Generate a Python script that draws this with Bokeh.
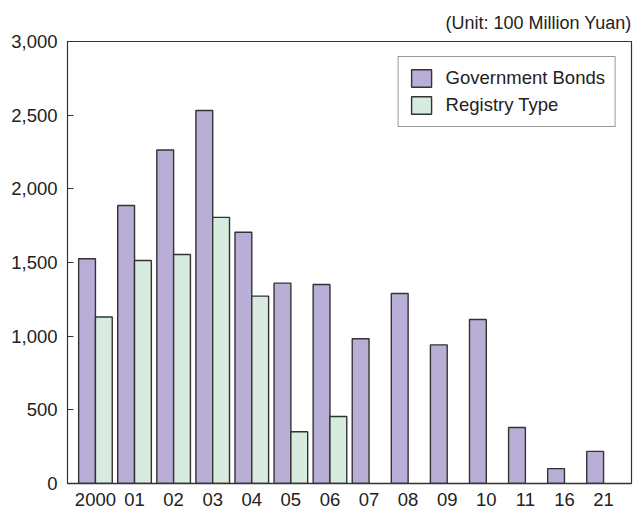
from bokeh.plotting import figure
from bokeh.models import (FactorRange, Range1d, FixedTicker, NumeralTickFormatter,
                          ColumnDataSource, Legend, LegendItem)
from bokeh.transform import dodge
from bokeh.embed import file_html
from bokeh.resources import INLINE

years = ["2000", "01", "02", "03", "04", "05", "06", "07", "08", "09", "10", "11", "16", "21"]
government_bonds = [1525, 1887, 2264, 2532, 1705, 1360, 1351, 982, 1290, 941, 1113, 380, 101, 218]
registry_type = [1130, 1514, 1554, 1806, 1272, 351, 455, 0, 0, 0, 0, 0, 0, 0]
y_ticks = [0, 500, 1000, 1500, 2000, 2500, 3000]
unit_label = "(Unit: 100 Million Yuan)"

FONT = "Liberation Sans"
TEXT = "#222222"
LINE = "#333333"
PURPLE = "#b9aed6"
GREEN = "#d7ebdf"

reg_x = [y for y, v in zip(years, registry_type) if v > 0]
reg_v = [v for v in registry_type if v > 0]
src_gov = ColumnDataSource(dict(year=years, value=government_bonds))
src_reg = ColumnDataSource(dict(year=reg_x, value=reg_v))

p = figure(width=634, height=508, output_backend="svg", toolbar_location=None,
           x_range=FactorRange(factors=years, range_padding=0.215, range_padding_units="absolute"),
           y_range=Range1d(0, 3000),
           min_border_left=67, min_border_right=3, min_border_top=41, min_border_bottom=10)

p.title.text = unit_label
p.title.align = "right"
p.title.text_font = FONT
p.title.text_font_size = "18px"
p.title.text_font_style = "normal"
p.title.text_color = TEXT
p.title.standoff = 17

bw = 0.43
r_gov = p.vbar(x=dodge("year", -bw / 2, range=p.x_range), top="value", width=bw, source=src_gov,
               fill_color=PURPLE, line_color=LINE, line_width=1.4)
r_reg = p.vbar(x=dodge("year", bw / 2, range=p.x_range), top="value", width=bw, source=src_reg,
               fill_color=GREEN, line_color=LINE, line_width=1.4)

p.xgrid.grid_line_color = None
p.ygrid.grid_line_color = None
p.outline_line_color = LINE
p.outline_line_width = 1.2
p.background_fill_color = "white"
p.border_fill_color = "white"

p.yaxis.ticker = FixedTicker(ticks=y_ticks)
p.yaxis.formatter = NumeralTickFormatter(format="0,0")
p.yaxis.major_tick_in = 6
p.yaxis.major_tick_out = 0
p.yaxis.minor_tick_line_color = None
p.yaxis.major_tick_line_color = LINE
p.yaxis.axis_line_color = LINE
p.yaxis.major_label_standoff = 10

p.xaxis.major_tick_line_color = None
p.xaxis.minor_tick_line_color = None
p.xaxis.axis_line_color = LINE
p.xaxis.axis_line_width = 1.5
p.xaxis.major_label_standoff = 3

for ax in (p.xaxis, p.yaxis):
    ax.major_label_text_font = FONT
    ax.major_label_text_font_size = "18.5px"
    ax.major_label_text_color = TEXT

legend = Legend(items=[LegendItem(label="Government Bonds", renderers=[r_gov]),
                       LegendItem(label="Registry Type", renderers=[r_reg])],
                location="top_right", margin=15, padding=10, spacing=5,
                glyph_width=25, glyph_height=22, label_standoff=12,
                label_text_font=FONT, label_text_font_size="18.5px", label_text_color=TEXT,
                border_line_color=LINE, border_line_width=1.2,
                background_fill_color="white", background_fill_alpha=1.0)
p.add_layout(legend)

open("out.html", "w").write(file_html(p, INLINE))
